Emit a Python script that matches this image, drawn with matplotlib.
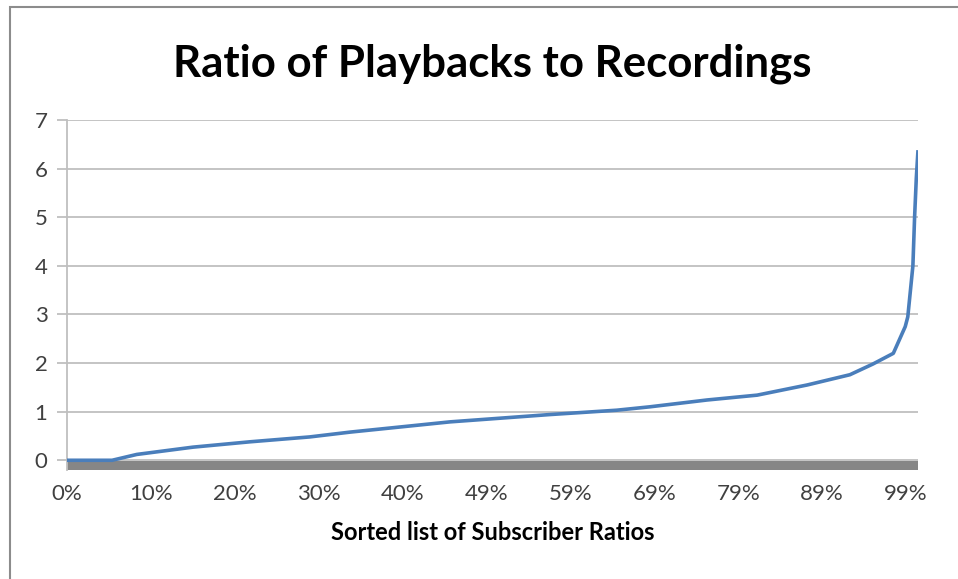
import numpy as np
import matplotlib
matplotlib.use('Agg')
import matplotlib.pyplot as plt
from matplotlib.patches import Rectangle

plt.rcParams['font.family'] = ['Lato', 'DejaVu Sans']

# sorted subscriber ratios (fraction of list, ratio)
pos = [0.0, 0.053, 0.082, 0.148, 0.215, 0.285, 0.333, 0.45, 0.567, 0.646, 0.685,
       0.752, 0.811, 0.870, 0.920, 0.947, 0.971, 0.985, 0.988, 0.994, 0.996, 0.998, 1.0]
ratio = [0.0, 0.0, 0.12, 0.27, 0.38, 0.48, 0.58, 0.79, 0.94, 1.03, 1.10,
         1.24, 1.34, 1.55, 1.76, 1.98, 2.20, 2.75, 2.95, 4.0, 5.0, 5.8, 6.38]
tick_labels = ['0%', '10%', '20%', '30%', '40%', '49%', '59%', '69%', '79%', '89%', '99%']
tick_step = 0.0986

fig = plt.figure(figsize=(9.58, 5.79), dpi=100)
ax = fig.add_axes([67/958, 1-470/579, (918-67)/958, 350/579])

ax.plot(pos, ratio, color='#4A7EBB', lw=2.6, solid_capstyle='butt', zorder=3)
ax.axhspan(-0.2, -0.01, color='#868686', zorder=2, lw=0)

ax.set_xlim(0, 1)
ax.set_ylim(-0.2, 7)
ax.set_yticks(range(0, 8))
ax.set_xticks([i*tick_step for i in range(len(tick_labels))])
ax.set_xticklabels(tick_labels)
ax.grid(axis='y', color='#BFBFBF', lw=1.3)
ax.set_axisbelow(True)
for s in ['top', 'right', 'bottom']:
    ax.spines[s].set_visible(False)
ax.spines['left'].set_color('#BFBFBF')
ax.spines['left'].set_linewidth(1.3)
ax.tick_params(axis='y', length=7, width=1.3, color='#BFBFBF', pad=7, labelsize=16, labelcolor='#404040')
ax.tick_params(axis='x', length=0, pad=10, labelsize=16, labelcolor='#404040')

ax.set_title('Ratio of Playbacks to Recordings', fontsize=31.5, fontweight='bold', pad=31)
ax.set_xlabel('Sorted list of Subscriber Ratios', fontsize=17, fontweight='bold', labelpad=12)

# chart border
fig.patches.append(Rectangle((10/958, -0.05), 1.1, 1.05-7/579, transform=fig.transFigure,
                             fill=False, edgecolor='#8C8C8C', lw=1.5))

plt.savefig('out.png', dpi=100)
